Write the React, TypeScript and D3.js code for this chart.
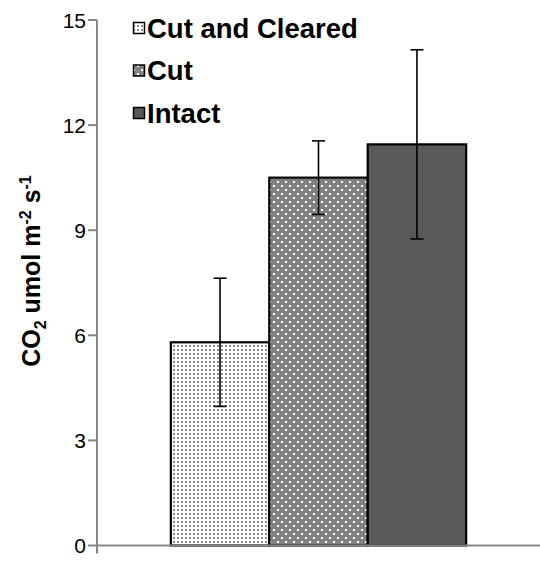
import React from "react";
import * as d3 from "d3";

// Soil CO2 efflux by treatment (mean ± error)
const treatments = ["Cut and Cleared", "Cut", "Intact"];
const meanFlux = [5.8, 10.5, 11.45];
const fluxError = [1.83, 1.05, 2.7];
const yTickValues = [0, 3, 6, 9, 12, 15];
const groupLabel = ["all"];

const W = 540;
const H = 561;
const margin = { left: 97, right: 0, top: 20, bottom: 15.5 };
const FONT = "'Liberation Sans', Arial, Helvetica, sans-serif";
const AXIS_COLOR = "#868686";

const fillFor = ["url(#dotsLight)", "url(#dotsDark)", "#595959"];

export default function App() {
  const plotBottom = H - margin.bottom;
  const y = d3.scaleLinear().domain([0, 15]).range([plotBottom, margin.top]);

  // One category, gap width of 150% split around the cluster
  const x0 = d3
    .scaleBand<string>()
    .domain(groupLabel)
    .range([margin.left, W - margin.right])
    .paddingInner(0)
    .paddingOuter(0.25);
  const start = x0(groupLabel[0]) as number;
  const x1 = d3
    .scaleBand<string>()
    .domain(treatments)
    .range([start, start + x0.bandwidth()]);

  const capHalf = 6.5;

  return (
    <svg
      width={W}
      height={H}
      style={{ position: "fixed", left: 0, top: 0, background: "#fff" }}
      fontFamily={FONT}
    >
      <defs>
        <pattern id="dotsLight" patternUnits="userSpaceOnUse" width={4} height={4}>
          <rect width={4} height={4} fill="#ffffff" />
          <rect x={1} y={1} width={2} height={2} fill="#8a8a8a" />
        </pattern>
        <pattern id="dotsDark" patternUnits="userSpaceOnUse" width={8} height={8}>
          <rect width={8} height={8} fill="#808080" />
          <rect x={1} y={1} width={2} height={2} fill="#ffffff" />
          <rect x={5} y={5} width={2} height={2} fill="#ffffff" />
        </pattern>
      </defs>

      {/* y axis */}
      <line
        x1={margin.left}
        x2={margin.left}
        y1={margin.top}
        y2={plotBottom}
        stroke={AXIS_COLOR}
        strokeWidth={2}
      />
      {yTickValues.map((t) => (
        <g key={t}>
          <line
            x1={margin.left - 9}
            x2={margin.left}
            y1={y(t)}
            y2={y(t)}
            stroke={AXIS_COLOR}
            strokeWidth={2}
          />
          <text
            x={margin.left - 11}
            y={y(t)}
            textAnchor="end"
            dominantBaseline="central"
            fontSize={21}
            fill="#000"
          >
            {t}
          </text>
        </g>
      ))}

      {/* bars */}
      {treatments.map((name, i) => (
        <rect
          key={name}
          x={x1(name) as number}
          y={y(meanFlux[i])}
          width={x1.bandwidth()}
          height={plotBottom - y(meanFlux[i])}
          fill={fillFor[i]}
          stroke="#000"
          strokeWidth={2.2}
        />
      ))}

      {/* x axis */}
      <line
        x1={margin.left}
        x2={W - margin.right}
        y1={plotBottom}
        y2={plotBottom}
        stroke={AXIS_COLOR}
        strokeWidth={2}
      />
      <line
        x1={margin.left}
        x2={margin.left}
        y1={plotBottom}
        y2={plotBottom + 8}
        stroke={AXIS_COLOR}
        strokeWidth={2}
      />

      {/* error bars */}
      {treatments.map((name, i) => {
        const cx = (x1(name) as number) + x1.bandwidth() / 2;
        const hi = y(meanFlux[i] + fluxError[i]);
        const lo = y(meanFlux[i] - fluxError[i]);
        return (
          <g key={name} stroke="#000" strokeWidth={1.6}>
            <line x1={cx} x2={cx} y1={hi} y2={lo} />
            <line x1={cx - capHalf} x2={cx + capHalf} y1={hi} y2={hi} />
            <line x1={cx - capHalf} x2={cx + capHalf} y1={lo} y2={lo} />
          </g>
        );
      })}

      {/* legend */}
      {treatments.map((name, i) => {
        const cy = 28 + i * 42.5;
        return (
          <g key={name}>
            <rect
              x={133.5}
              y={cy - 5.5}
              width={11}
              height={11}
              fill={fillFor[i]}
              stroke="#000"
              strokeWidth={1.5}
            />
            <text
              x={147}
              y={cy}
              dominantBaseline="central"
              fontSize={27.5}
              fontWeight="bold"
              fill="#000"
            >
              {name}
            </text>
          </g>
        );
      })}

      {/* y axis title */}
      <text
        transform={`translate(40, 271) rotate(-90)`}
        textAnchor="middle"
        fontSize={25}
        fontWeight="bold"
        fill="#000"
      >
        <tspan>CO</tspan>
        <tspan fontSize={16} dy={6}>2</tspan>
        <tspan dy={-6}> umol m</tspan>
        <tspan fontSize={16} dy={-9}>-2</tspan>
        <tspan dy={9}> s</tspan>
        <tspan fontSize={16} dy={-9}>-1</tspan>
      </text>
    </svg>
  );
}
